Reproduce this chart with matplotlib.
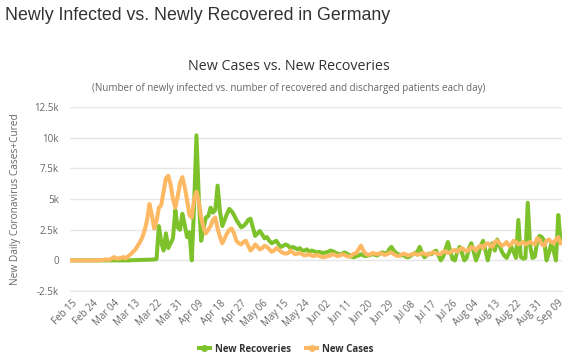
import matplotlib.pyplot as plt
import pandas as pd
from matplotlib.lines import Line2D

# daily values, Feb 15 .. Sep 10 2020
newCases = [
    0, 0, 0, 0, 0, 0, 0, 0, 0, 0, 2, 5, 15, 25,
    80, 50, 60, 150, 280, 130, 180, 200, 270, 160, 350, 500, 700, 900,
    1200, 1500, 1900, 2500, 3300, 4600, 3700, 2600, 3200, 4300, 4500, 5600, 6700, 6900,
    6200, 5000, 4300, 5200, 6300, 6800, 6000, 4900, 3700, 3500, 5000, 5600, 4800, 3500,
    2700, 2200, 2500, 2800, 3300, 3500, 2600, 1900, 1400, 1800, 2200, 2500, 2600, 2200,
    1600, 1400, 1300, 1500, 1600, 1200, 800, 1000, 1300, 1100, 900, 1000, 1200, 1100,
    900, 700, 800, 1000, 900, 700, 600, 550, 600, 800, 650, 500, 550, 600,
    500, 400, 450, 500, 400, 350, 450, 400, 300, 250, 300, 350, 400, 500,
    450, 350, 400, 500, 450, 350, 300, 400, 550, 600, 900, 1200, 800, 550,
    450, 500, 600, 550, 500, 600, 550, 450, 500, 600, 650, 500, 400, 350,
    450, 550, 500, 400, 450, 500, 550, 450, 500, 600, 550, 450, 500, 600,
    650, 600, 500, 550, 700, 750, 600, 650, 800, 850, 700, 900, 1000, 850,
    750, 900, 1100, 1000, 800, 1100, 1200, 1000, 1300, 1400, 1200, 1100, 1500, 1600,
    1400, 1200, 1300, 1500, 1200, 1300, 1600, 1500, 1300, 1400, 1500, 1300, 1400, 1500,
    1400, 1300, 1800, 1700, 1300, 1200, 1600, 1700, 1500, 1400, 1700, 1900, 1400,
]
newRecoveries = [
    0, 0, 0, 0, 0, 0, 0, 0, 0, 0, 0, 0, 0, 0,
    0, 0, 0, 0, 0, 0, 0, 0, 0, 0, 0, 10, 20, 20,
    30, 40, 40, 50, 50, 60, 60, 80, 100, 2800, 1500, 800, 2200, 1000,
    1400, 1800, 4100, 2700, 2500, 3800, 2900, 1900, 2300, 0, 4500, 10200, 5000, 1600,
    2600, 3500, 3600, 4300, 3900, 4100, 6100, 4000, 2800, 3300, 3800, 4200, 4000, 3700,
    3300, 3000, 2700, 2800, 3000, 3300, 3400, 2700, 2000, 2200, 2400, 2100, 1800, 1900,
    1600, 1400, 1500, 1600, 1300, 1100, 1200, 1300, 1200, 1000, 1100, 1000, 900, 1000,
    800, 800, 900, 700, 800, 750, 650, 700, 650, 600, 650, 700, 800, 750,
    650, 550, 500, 550, 650, 550, 450, 300, 250, 350, 400, 500, 400, 350,
    400, 450, 500, 450, 400, 550, 650, 600, 500, 900, 1100, 800, 600, 500,
    400, 450, 300, 250, 350, 500, 600, 700, 1100, 600, 250, 400, 550, 500,
    700, 800, 400, 0, 300, 900, 1500, 800, 100, 0, 700, 1100, 600, 0,
    200, 1000, 1400, 700, 0, 500, 1200, 1600, 800, 0, 900, 1400, 800, 1700,
    1200, 700, 400, 200, 600, 1100, 700, 200, 3300, 300, 150, 200, 4700, 1200,
    200, 300, 1500, 2000, 1900, 1600, 0, 600, 1400, 800, 0, 3700, 1500,
]
yTicks = [-2500, 0, 2500, 5000, 7500, 10000, 12500]
yTickLabels = ['-2.5k', '0', '2.5k', '5k', '7.5k', '10k', '12.5k']

dates = pd.date_range('2020-02-15', periods=len(newCases))
days = list(range(len(newCases)))

greenColor = '#7dc22b'
orangeColor = '#fdb863'

fig = plt.figure(figsize=(5.78, 3.62), dpi=100)
ax = fig.add_axes([0.121, 0.196, 0.851, 0.508])

ax.plot(days, newRecoveries, color=greenColor, linewidth=2.9, solid_joinstyle='round', zorder=3)
ax.plot(days, newCases, color=orangeColor, linewidth=2.9, solid_joinstyle='round', zorder=4)

ax.set_ylim(-2500, 12500)
ax.set_xlim(-0.85, len(days) - 0.5)
ax.set_yticks(yTicks)
ax.set_yticklabels(yTickLabels)
ax.grid(axis='y', color='#e6e6e6', linewidth=1)
ax.set_axisbelow(True)

tickPos = days[::9]
ax.set_xticks(tickPos)
ax.set_xticklabels([dates[i].strftime('%b %d') for i in tickPos], rotation=45,
                   ha='right', rotation_mode='anchor')

for s in ['top', 'right', 'left']:
    ax.spines[s].set_visible(False)
ax.spines['bottom'].set_color('#e6e6e6')
ax.tick_params(axis='both', length=0, labelsize=7, labelcolor='#666666')
ax.tick_params(axis='y', pad=8)
ax.tick_params(axis='x', pad=5)
for lbl in ax.get_xticklabels() + ax.get_yticklabels():
    lbl.set_fontfamily('Open Sans')

ax.set_ylabel('New Daily Coronavirus Cases+Cured', fontsize=7.3, color='#666666',
              fontfamily='Open Sans')
ax.yaxis.set_label_coords(-0.1, 0.5)

fig.text(0.008, 1 - 16 / 362, 'Newly Infected vs. Newly Recovered in Germany',
         fontsize=12.8, color='#333333', va='center', ha='left', fontfamily='Liberation Sans')
fig.text(0.5, 1 - 66 / 362, 'New Cases vs. New Recoveries', fontsize=10.3, color='#333333',
         va='center', ha='center', fontfamily='Open Sans')
fig.text(0.5, 1 - 89 / 362,
         '(Number of newly infected vs. number of recovered and discharged patients each day)',
         fontsize=7, color='#666666', va='center', ha='center', fontfamily='Open Sans')

handles = [Line2D([0], [0], color=greenColor, linewidth=2.9, marker='o', markersize=4),
           Line2D([0], [0], color=orangeColor, linewidth=2.9, marker='o', markersize=4)]
leg = fig.legend(handles, ['New Recoveries', 'New Cases'], loc='center',
                 bbox_to_anchor=(0.495, 1 - 349 / 362), ncol=2, frameon=False,
                 prop={'family': 'Open Sans', 'weight': 'bold', 'size': 7},
                 handlelength=1.1, columnspacing=1.6, handletextpad=0.5)
for t in leg.get_texts():
    t.set_color('#333333')

fig.savefig('out.png', dpi=100, facecolor='white')
